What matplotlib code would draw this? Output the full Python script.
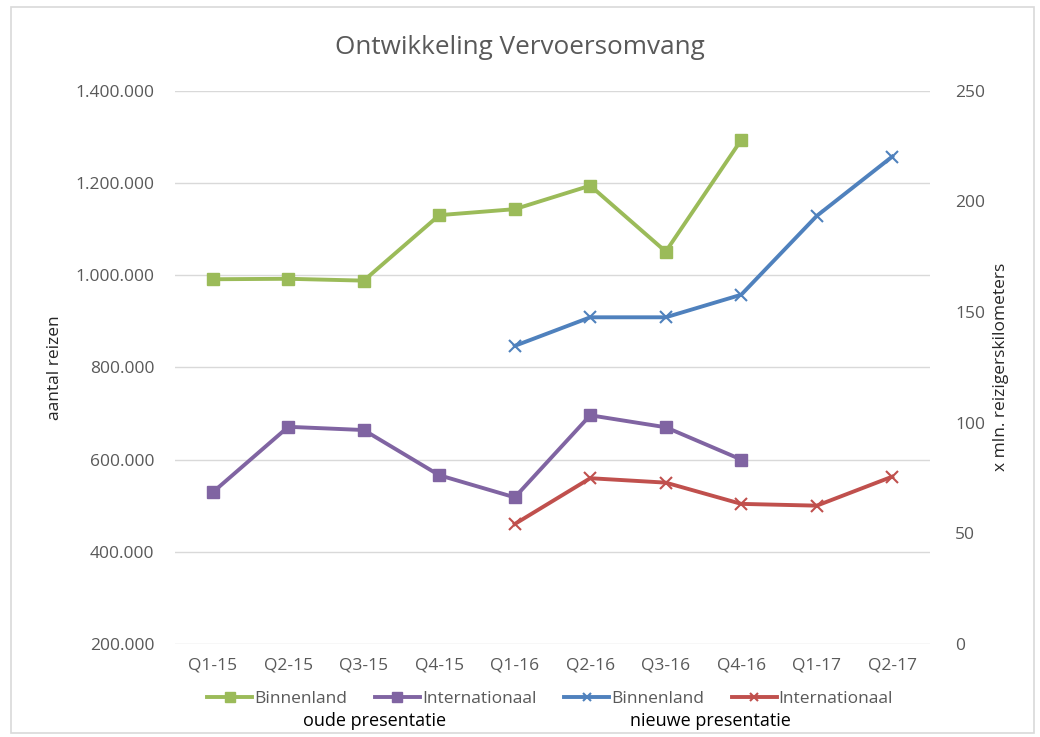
import matplotlib.pyplot as plt
from matplotlib.patches import Rectangle
from matplotlib.ticker import FuncFormatter

plt.rcParams['font.family'] = ['Open Sans', 'DejaVu Sans']

# data (gelezen uit de grafiek)
kwartalen = ['Q1-15', 'Q2-15', 'Q3-15', 'Q4-15', 'Q1-16', 'Q2-16', 'Q3-16', 'Q4-16', 'Q1-17', 'Q2-17']
# oude presentatie: aantal reizen (linker as)
oud_binnenland = [991000, 992000, 988000, 1130000, 1143000, 1194000, 1051000, 1293000]
oud_internationaal = [529000, 671000, 664000, 566000, 518000, 696000, 670000, 600000]
# nieuwe presentatie: x mln. reizigerskilometers (rechter as), vanaf Q1-16
nieuw_binnenland = [134.7, 147.6, 147.6, 157.8, 193.4, 220.2]
nieuw_internationaal = [54.2, 74.9, 72.9, 63.3, 62.5, 75.6]

groen = '#9BBB59'
paars = '#8064A2'
blauw = '#4F81BD'
rood = '#C0504D'
grijs = '#595959'

fig = plt.figure(figsize=(10.4, 7.37), dpi=100)
fig.patches.append(Rectangle((0.011, 0.006), 0.983, 0.984, transform=fig.transFigure,
                             fill=False, edgecolor='#D9D9D9', linewidth=1.2))

ax = fig.add_axes([0.1683, 0.1262, 0.7259, 0.7508])
ax2 = ax.twinx()

x_oud = list(range(len(oud_binnenland)))
x_nieuw = list(range(4, 4 + len(nieuw_binnenland)))

l1, = ax.plot(x_oud, oud_binnenland, color=groen, lw=2.8, marker='s', ms=9, label='Binnenland')
l2, = ax.plot(x_oud, oud_internationaal, color=paars, lw=2.8, marker='s', ms=9, label='Internationaal')
l3, = ax2.plot(x_nieuw, nieuw_binnenland, color=blauw, lw=2.8, marker='x', ms=8, mew=1.5, label='Binnenland')
l4, = ax2.plot(x_nieuw, nieuw_internationaal, color=rood, lw=2.8, marker='x', ms=8, mew=1.5, label='Internationaal')

ax.set_xlim(-0.5, len(kwartalen) - 0.5)
ax.set_ylim(200000, 1400000)
ax.set_yticks(range(200000, 1400001, 200000))
ax.yaxis.set_major_formatter(FuncFormatter(lambda v, p: f'{int(v):,}'.replace(',', '.')))
ax.set_xticks(range(len(kwartalen)))
ax.set_xticklabels(kwartalen)
ax2.set_ylim(0, 250)
ax2.set_yticks(range(0, 251, 50))

ax.grid(axis='y', color='#D9D9D9', lw=1)
ax.set_axisbelow(True)
for a in (ax, ax2):
    for s in a.spines.values():
        s.set_visible(False)
    a.tick_params(length=0, labelsize=12.5, labelcolor=grijs)
ax.tick_params(axis='y', pad=15)
ax.tick_params(axis='x', pad=10)
ax2.tick_params(axis='y', pad=18)

ax.set_ylabel('aantal reizen', fontsize=12.5, color='#262626', labelpad=9)
ax2.set_ylabel('x mln. reizigerskilometers', fontsize=12.5, color='#262626', labelpad=6)

fig.text(0.5, 0.936, 'Ontwikkeling Vervoersomvang', ha='center', va='center', fontsize=18.8, color=grijs)

fig.legend(handles=[l1, l2, l3, l4], loc='center', bbox_to_anchor=(0.529, 0.052), ncol=4,
           frameon=False, fontsize=12.5, handlelength=2.6, handletextpad=0.1, columnspacing=1.6,
           labelcolor=grijs, markerscale=0.8)
fig.text(0.36, 0.022, 'oude presentatie', ha='center', va='center', fontsize=13, color='black')
fig.text(0.683, 0.022, 'nieuwe presentatie', ha='center', va='center', fontsize=13, color='black')

fig.savefig('out.png', dpi=100)
